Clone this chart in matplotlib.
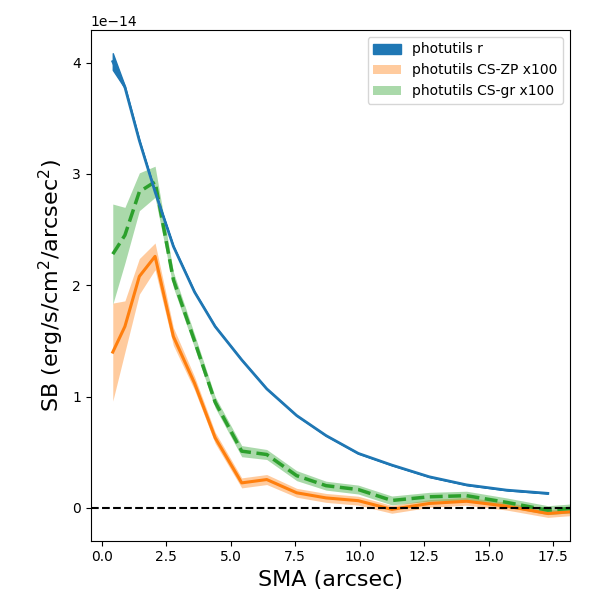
import numpy as np
import matplotlib
matplotlib.use("Agg")
import matplotlib.pyplot as plt

# Data (SB in units of 1e-14 erg/s/cm^2/arcsec^2)
sma = [0.43, 0.9, 1.46, 2.07, 2.78, 3.6, 4.4, 5.43, 6.4, 7.56, 8.7, 9.95,
       11.25, 12.7, 14.15, 15.7, 17.3, 19.0]

sb_r = [4.01, 3.78, 3.30, 2.84, 2.35, 1.94, 1.63, 1.33, 1.07, 0.83, 0.65,
        0.49, 0.385, 0.28, 0.207, 0.16, 0.131]
err_r = [0.075, 0.01, 0.005, 0.004, 0.003, 0.003, 0.002, 0.002, 0.002,
         0.002, 0.002, 0.002, 0.002, 0.002, 0.002, 0.002, 0.002]

sb_zp = [1.40, 1.63, 2.08, 2.26, 1.54, 1.12, 0.63, 0.225, 0.255, 0.136,
         0.09, 0.065, -0.013, 0.04, 0.06, 0.016, -0.05, -0.02]
err_zp = [0.44, 0.23, 0.16, 0.12, 0.08, 0.06, 0.05, 0.045, 0.045, 0.04,
          0.04, 0.04, 0.035, 0.035, 0.035, 0.035, 0.035, 0.035]

sb_gr = [2.28, 2.45, 2.84, 2.93, 2.05, 1.50, 0.95, 0.51, 0.48, 0.29,
         0.20, 0.165, 0.067, 0.10, 0.11, 0.05, -0.02, 0.01]
err_gr = [0.45, 0.25, 0.17, 0.14, 0.07, 0.06, 0.05, 0.05, 0.045, 0.045,
          0.04, 0.04, 0.04, 0.04, 0.04, 0.04, 0.04, 0.04]

scale = 1e-14
x_r = np.array(sma[:len(sb_r)])
x = np.array(sma)
r = np.array(sb_r) * scale
er = np.array(err_r) * scale
zp = np.array(sb_zp) * scale
ezp = np.array(err_zp) * scale
gr = np.array(sb_gr) * scale
egr = np.array(err_gr) * scale

fig, ax = plt.subplots(figsize=(6, 6), dpi=100)
fig.subplots_adjust(left=0.151, right=0.95, bottom=0.099, top=0.95)

h1 = ax.fill_between(x_r, r - er, r + er, color='C0', label='photutils r', zorder=3)
ax.plot(x_r, r, color='C0', lw=2, zorder=4)

h2 = ax.fill_between(x, zp - ezp, zp + ezp, color='C1', alpha=0.4, lw=0,
                     label='photutils CS-ZP x100')
ax.plot(x, zp, color='C1', lw=2.2)

h3 = ax.fill_between(x, gr - egr, gr + egr, color='C2', alpha=0.4, lw=0,
                     label='photutils CS-gr x100')
ax.plot(x, gr, color='C2', lw=2.5, ls='--')

ax.axhline(0, color='k', ls='--', lw=1.5)

ax.set_xlim(-0.43, 18.16)
ax.set_xlabel('SMA (arcsec)', fontsize=16)
ax.set_ylabel('SB (erg/s/cm$^2$/arcsec$^2$)', fontsize=16)
ax.legend(handles=[h1, h2, h3], loc='upper right')

plt.savefig("out.png", dpi=100)
